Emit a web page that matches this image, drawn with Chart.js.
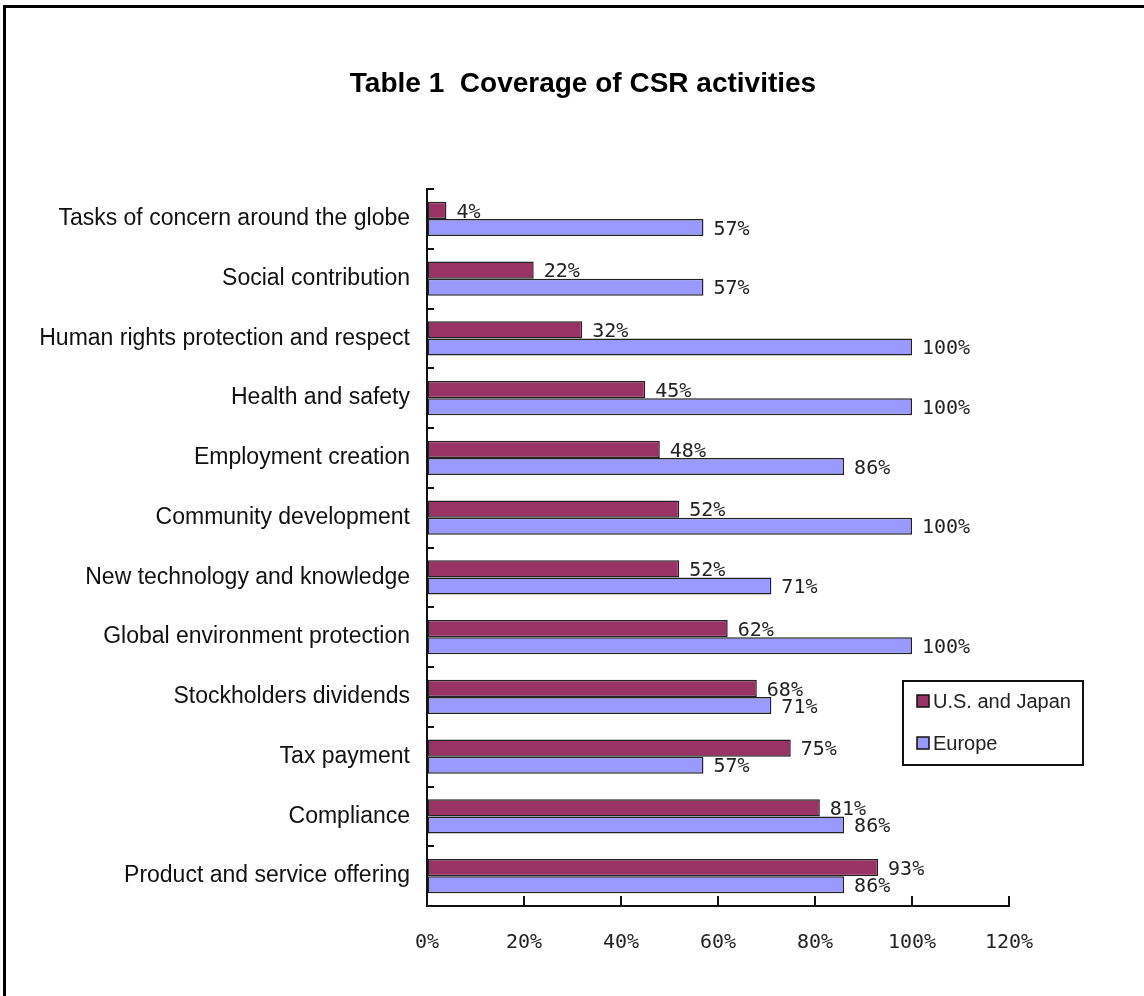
<!DOCTYPE html>
<html>
<head>
<meta charset="utf-8">
<title>Coverage of CSR activities</title>
<script src="https://cdn.jsdelivr.net/npm/chart.js@4"></script>
<style>
  html, body { margin: 0; padding: 0; background: #fff; overflow: hidden; }
  #wrap { position: absolute; left: 0; top: 0; width: 1144px; height: 996px; }
  /* only the top and left edges of the frame fall inside the page */
  #frame {
    position: absolute; left: 3px; top: 5px; width: 1200px; height: 1100px;
    border-left: 3px solid #000; border-top: 3px solid #000;
  }
  canvas { position: absolute; left: 0; top: 0; }
</style>
</head>
<body>
<div id="wrap">
  <div id="frame"></div>
  <canvas id="csrChart" width="1144" height="996"></canvas>
</div>
<script>
const categories = [
  'Tasks of concern around the globe',
  'Social contribution',
  'Human rights protection and respect',
  'Health and safety',
  'Employment creation',
  'Community development',
  'New technology and knowledge',
  'Global environment protection',
  'Stockholders dividends',
  'Tax payment',
  'Compliance',
  'Product and service offering',
];
const usJapan = [4, 22, 32, 45, 48, 52, 52, 62, 68, 75, 81, 93];
const europe = [57, 57, 100, 100, 86, 100, 71, 100, 71, 57, 86, 86];
const xTicks = [0, 20, 40, 60, 80, 100, 120];
const seriesNames = ['U.S. and Japan', 'Europe'];
const seriesColors = ['#993366', '#9999FF'];

const SANS = "'Liberation Sans', Arial, sans-serif";
const MONO = "'DejaVu Sans Mono', 'Liberation Mono', monospace";

// value text just past the end of each bar
const valueLabels = {
  id: 'valueLabels',
  afterDatasetsDraw(chart) {
    const ctx = chart.ctx;
    ctx.save();
    ctx.font = '20px ' + MONO;
    ctx.fillStyle = '#222';
    ctx.textAlign = 'left';
    ctx.textBaseline = 'middle';
    chart.data.datasets.forEach((ds, di) => {
      chart.getDatasetMeta(di).data.forEach((bar, i) => {
        ctx.fillText(ds.data[i] + '%', bar.x + 10, bar.y + 2);
      });
    });
    ctx.restore();
  },
};

// short tick marks pointing into the plot, like the old spreadsheet style
const innerTicks = {
  id: 'innerTicks',
  afterDraw(chart) {
    const {ctx, scales: {x, y}} = chart;
    ctx.save();
    ctx.strokeStyle = '#111';
    ctx.lineWidth = 2;
    ctx.beginPath();
    xTicks.slice(1).forEach(v => {
      const px = Math.round(x.getPixelForValue(v));
      ctx.moveTo(px, y.bottom);
      ctx.lineTo(px, y.bottom - 10);
    });
    for (let i = 0; i <= categories.length; i++) {
      const py = Math.round(y.getPixelForValue(i - 0.5));
      ctx.moveTo(x.left, py);
      ctx.lineTo(x.left + 7, py);
    }
    ctx.stroke();
    ctx.restore();
  },
};

// boxed legend floating over the lower right of the plot
const boxLegend = {
  id: 'boxLegend',
  afterDraw(chart) {
    const ctx = chart.ctx;
    const left = 903, top = 681, w = 180, h = 84;
    ctx.save();
    ctx.fillStyle = '#fff';
    ctx.fillRect(left, top, w, h);
    ctx.strokeStyle = '#111';
    ctx.lineWidth = 2;
    ctx.strokeRect(left, top, w, h);
    ctx.font = '20px ' + SANS;
    ctx.textAlign = 'left';
    ctx.textBaseline = 'middle';
    seriesNames.forEach((name, i) => {
      const cy = top + 20 + i * 42;
      ctx.fillStyle = seriesColors[i];
      ctx.fillRect(917, cy - 6, 12, 12);
      ctx.lineWidth = 1.5;
      ctx.strokeRect(917, cy - 6, 12, 12);
      ctx.fillStyle = '#222';
      ctx.fillText(name, 933, cy + 1);
    });
    ctx.restore();
  },
};

new Chart(document.getElementById('csrChart'), {
  type: 'bar',
  data: {
    labels: categories,
    datasets: [
      {
        label: seriesNames[0],
        data: usJapan,
        backgroundColor: seriesColors[0],
        borderColor: '#222',
        borderWidth: 1.5,
        borderSkipped: false,
        categoryPercentage: 0.57,
        barPercentage: 1,
      },
      {
        label: seriesNames[1],
        data: europe,
        backgroundColor: seriesColors[1],
        borderColor: '#222',
        borderWidth: 1.5,
        borderSkipped: false,
        categoryPercentage: 0.57,
        barPercentage: 1,
      },
    ],
  },
  options: {
    indexAxis: 'y',
    responsive: false,
    animation: false,
    layout: {
      padding: {left: 22, right: 0, top: 0, bottom: 0},
    },
    plugins: {
      legend: {display: false},
      tooltip: {enabled: false},
      title: {
        display: true,
        text: 'Table 1  Coverage of CSR activities',
        color: '#000',
        font: {family: SANS, size: 28, weight: 'bold'},
        padding: {top: 67, bottom: 88.4},
      },
    },
    scales: {
      x: {
        min: 0,
        max: 120,
        grid: {drawOnChartArea: false, drawTicks: false},
        border: {display: true, color: '#111', width: 2},
        ticks: {
          stepSize: 20,
          padding: 25,
          color: '#222',
          font: {family: MONO, size: 20},
          callback: v => v + '%',
        },
        afterFit: s => { s.height = 90; },
      },
      y: {
        grid: {drawOnChartArea: false, drawTicks: false},
        border: {display: true, color: '#111', width: 2},
        ticks: {
          padding: 17,
          color: '#111',
          font: {family: SANS, size: 23},
        },
        afterFit: s => { s.width = 405; },
      },
      // empty spacer on the right keeps the plot narrower than the title band
      spacer: {
        type: 'linear',
        axis: 'y',
        position: 'right',
        grid: {display: false},
        border: {display: false},
        ticks: {display: false},
        afterFit: s => { s.width = 135; },
      },
    },
  },
  plugins: [valueLabels, innerTicks, boxLegend],
});
</script>
</body>
</html>
